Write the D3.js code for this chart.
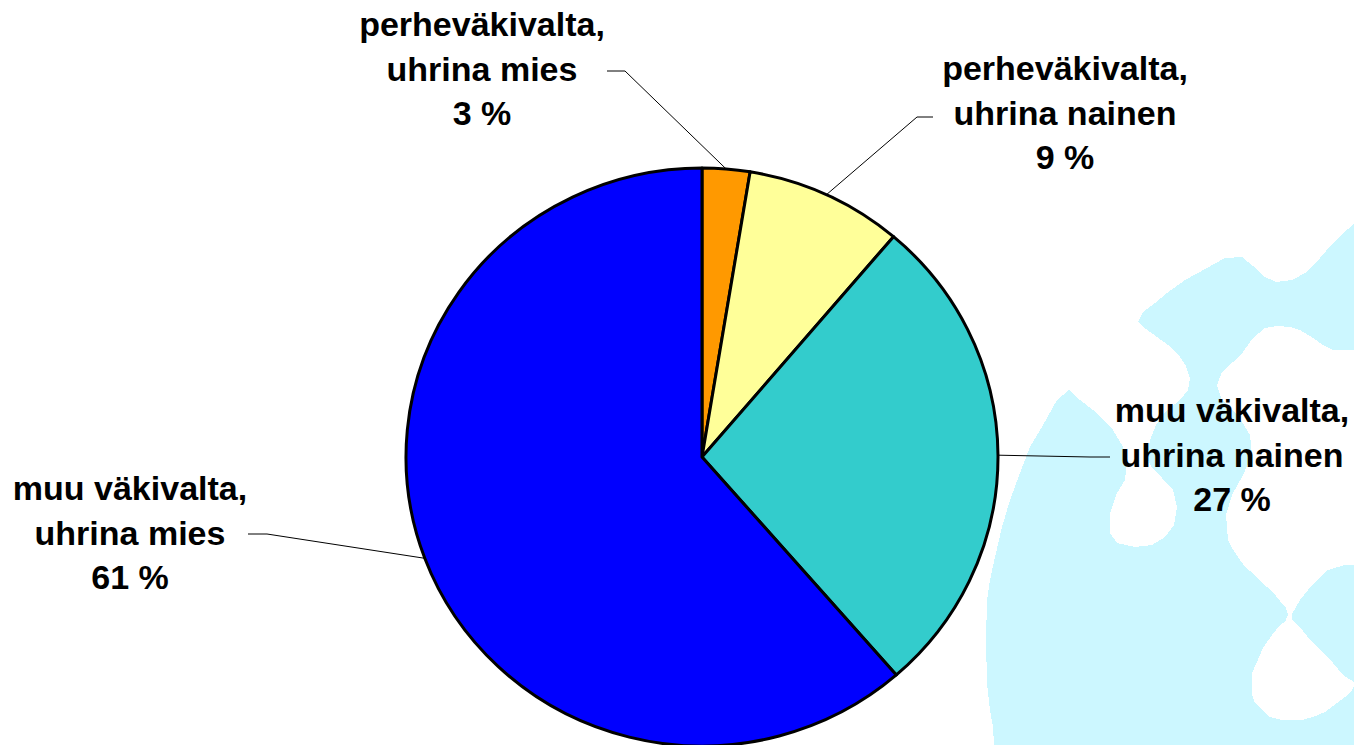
<!DOCTYPE html>
<html>
<head>
<meta charset="utf-8">
<script src="https://cdn.jsdelivr.net/npm/d3@7/dist/d3.min.js"></script>
<style>
  html, body { margin: 0; padding: 0; background: #fff; }
  svg { display: block; }
  text { font-family: "Liberation Sans", Arial, sans-serif; font-weight: bold; }
</style>
</head>
<body>
<svg id="chart" width="1354" height="745"></svg>
<script>
// ---- data ----
const categories = [
  ["perheväkivalta,", "uhrina mies"],
  ["perheväkivalta,", "uhrina nainen"],
  ["muu väkivalta,", "uhrina nainen"],
  ["muu väkivalta,", "uhrina mies"]
];
const values = [2.6, 8.6, 27.4, 61.4];   // percent shares
const colors = ["#FF9900", "#FFFF99", "#33CCCC", "#0000FF"];

// ---- layout ----
const W = 1354, H = 745;
const cx = 702, cy = 457, rx = 296, ry = 289;
const svg = d3.select("#chart");

// background watermark
const bgColor = "#CCF7FF";
const bgShapes = [
  [[994,745],[993,727],[990,710],[987,683],[986,640],[987,600],[990,580],[995,557],[1002,527],[1010,500],[1020,473],[1030,447],[1042,427],[1057,400],[1069,390],[1080,400],[1097,413],[1113,430],[1123,447],[1127,460],[1125,480],
   [1117,493],[1110,513],[1110,533],[1117,543],[1135,547],[1152,545],[1165,537],[1174,525],[1177,507],[1173,490],[1162,478],[1152,468],[1147,458],
   [1150,440],[1156,425],[1165,412],[1180,400],[1188,390],[1190,378],[1186,366],[1178,354],[1168,345],[1157,337],[1146,329],[1138,322],
   [1143,312],[1155,303],[1167,293],[1185,280],[1207,268],[1225,258],[1242,257],[1253,266],[1263,276],[1276,282],[1292,280],[1307,272],[1320,258],[1333,243],[1348,229],[1354,224],
   [1354,350],[1333,350],[1323,345],[1313,338],[1300,330],[1290,327],[1277,326],[1265,328],[1253,338],[1243,352],[1233,362],[1222,372],[1217,385],
   [1222,400],[1238,415],[1250,435],[1252,455],[1243,475],[1232,495],[1226,515],[1228,540],[1232,548],[1238,557],[1245,567],[1255,575],[1262,583],[1273,592],[1280,601],[1286,608],[1288,615],
   [1285,622],[1280,625],[1272,635],[1263,648],[1257,662],[1252,673],[1252,695],[1255,703],[1262,710],[1270,717],[1282,720],[1302,720],[1313,717],[1325,712],[1337,703],[1345,697],[1352,690],[1354,686],
   [1354,745]],
  [[1292,614],[1300,600],[1312,585],[1320,577],[1328,570],[1345,565],[1354,565],[1354,682],[1343,675],[1333,663],[1320,650],[1310,640],[1300,627],[1292,620]]
];
const bgLine = d3.line().curve(d3.curveLinearClosed);
svg.append("g").selectAll("path").data(bgShapes).join("path")
  .attr("d", d => bgLine(d))
  .attr("fill", bgColor)
  .attr("shape-rendering", "crispEdges");

// pie
const pie = d3.pie().sort(null).value(d => d)(values);
const arc = d3.arc().innerRadius(0).outerRadius(rx);
const g = svg.append("g").attr("transform", `translate(${cx},${cy}) scale(1,${ry/rx})`);
g.selectAll("path").data(pie).join("path")
  .attr("d", arc)
  .attr("fill", (d, i) => colors[i])
  .attr("stroke", "#000")
  .attr("stroke-width", 3)
  .attr("stroke-linejoin", "round")
  .attr("vector-effect", "non-scaling-stroke");

// labels
const labelLayout = [
  { x: 482, y0: 36, elbow: [625, 71], end: [607, 71] },
  { x: 1065, y0: 80, elbow: [917, 117], end: [933, 117] },
  { x: 1232, y0: 422, elbow: [1090, 457], end: [1110, 457] },
  { x: 130, y0: 500, elbow: [267, 534], end: [248, 534] }
];
const lineGap = 44.5;

pie.forEach((d, i) => {
  const L = labelLayout[i];
  const a = (d.startAngle + d.endAngle) / 2;
  const px = cx + rx * Math.sin(a);
  const py = cy - ry * Math.cos(a);
  svg.append("path")
    .attr("d", d3.line()([[px, py], L.elbow, L.end]))
    .attr("fill", "none")
    .attr("stroke", "#000")
    .attr("stroke-width", 1);
  const lines = categories[i].concat([Math.round(values[i]) + " %"]);
  svg.append("text")
    .attr("text-anchor", "middle")
    .attr("font-size", 34)
    .attr("fill", "#000")
    .selectAll("tspan").data(lines).join("tspan")
    .attr("x", L.x)
    .attr("y", (t, j) => L.y0 + j * lineGap)
    .text(t => t);
});
</script>
</body>
</html>
